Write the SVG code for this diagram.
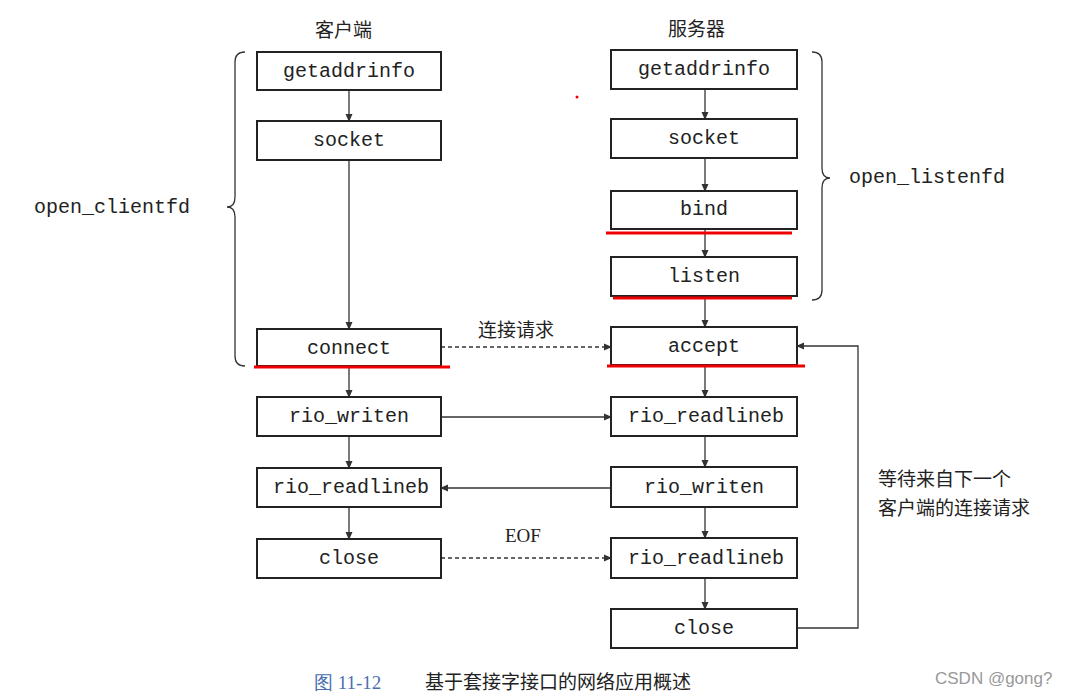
<svg xmlns="http://www.w3.org/2000/svg" width="1075" height="696" viewBox="0 0 1075 696">
<style>
.b{fill:#fff;stroke:#222;stroke-width:2}
.t{font-family:"Liberation Mono",monospace;font-size:20px;fill:#222;text-anchor:middle}
.c{font-family:"Noto Sans CJK SC",sans-serif;font-size:19px;fill:#222}
.l{stroke:#333;stroke-width:1.3;fill:none}
.d{stroke:#333;stroke-width:1.3;fill:none;stroke-dasharray:4 3}
.r{stroke:#e00;stroke-width:3}
</style>
<defs><marker id="a" markerWidth="8" markerHeight="8" refX="7" refY="4" orient="auto" markerUnits="userSpaceOnUse"><path d="M0,0.5 L8,4 L0,7.5z" fill="#333"/></marker></defs>
<rect width="1075" height="696" fill="#fff"/>
<text class="c" x="315" y="37">客户端</text>
<text class="c" x="668" y="36">服务器</text>
<g id="connectors">
<path class="l" marker-end="url(#a)" d="M349,90V121"/>
<path class="l" marker-end="url(#a)" d="M349,160V329"/>
<path class="l" marker-end="url(#a)" d="M349,366V397"/>
<path class="l" marker-end="url(#a)" d="M349,436V468"/>
<path class="l" marker-end="url(#a)" d="M349,507V539"/>
<path class="l" marker-end="url(#a)" d="M705,89V119"/>
<path class="l" marker-end="url(#a)" d="M705,158V191"/>
<path class="l" marker-end="url(#a)" d="M705,229V257"/>
<path class="l" marker-end="url(#a)" d="M705,296V327"/>
<path class="l" marker-end="url(#a)" d="M705,365V397"/>
<path class="l" marker-end="url(#a)" d="M705,436V467"/>
<path class="l" marker-end="url(#a)" d="M705,507V538"/>
<path class="l" marker-end="url(#a)" d="M705,578V609"/>
<path class="d" marker-end="url(#a)" d="M441,347H611"/>
<path class="l" marker-end="url(#a)" d="M441,417H611"/>
<path class="l" marker-end="url(#a)" d="M611,488H441"/>
<path class="d" marker-end="url(#a)" d="M441,558H611"/>
<path class="l" marker-end="url(#a)" d="M797,628H858V346H797"/>
<path class="l" d="M245,52Q235,52 235,62V197Q235,207 227,207Q235,207 235,217V356Q235,366 245,366"/>
<path class="l" d="M812,52Q822,52 822,62V168Q822,178 830,178Q822,178 822,188V290Q822,300 812,300"/>
</g>
<text class="c" x="478" y="337">连接请求</text>
<text class="c" x="505" y="542" style="font-family:'Liberation Serif',serif">EOF</text>
<text class="c" x="878" y="486">等待来自下一个</text>
<text class="c" x="878" y="515">客户端的连接请求</text>
<text class="t" x="112" y="213">open_clientfd</text>
<text class="t" x="927" y="183">open_listenfd</text>
<g id="c1"><rect class="b" x="257" y="52" width="184" height="38"/><text class="t" x="349" y="77">getaddrinfo</text></g>
<g id="c2"><rect class="b" x="257" y="121" width="184" height="39"/><text class="t" x="349" y="146">socket</text></g>
<g id="c3"><rect class="b" x="257" y="329" width="184" height="37"/><text class="t" x="349" y="354">connect</text></g>
<g id="c4"><rect class="b" x="257" y="397" width="184" height="39"/><text class="t" x="349" y="422">rio_writen</text></g>
<g id="c5"><rect class="b" x="257" y="468" width="184" height="39"/><text class="t" x="351" y="493">rio_readlineb</text></g>
<g id="c6"><rect class="b" x="257" y="539" width="184" height="39"/><text class="t" x="349" y="564">close</text></g>
<g id="s1"><rect class="b" x="611" y="50" width="186" height="39"/><text class="t" x="704" y="75">getaddrinfo</text></g>
<g id="s2"><rect class="b" x="611" y="119" width="186" height="39"/><text class="t" x="704" y="144">socket</text></g>
<g id="s3"><rect class="b" x="611" y="191" width="186" height="38"/><text class="t" x="704" y="215">bind</text></g>
<g id="s4"><rect class="b" x="611" y="257" width="186" height="39"/><text class="t" x="704" y="282">listen</text></g>
<g id="s5"><rect class="b" x="611" y="327" width="186" height="38"/><text class="t" x="704" y="352">accept</text></g>
<g id="s6"><rect class="b" x="611" y="397" width="186" height="39"/><text class="t" x="706" y="422">rio_readlineb</text></g>
<g id="s7"><rect class="b" x="611" y="467" width="186" height="40"/><text class="t" x="704" y="493">rio_writen</text></g>
<g id="s8"><rect class="b" x="611" y="538" width="186" height="40"/><text class="t" x="706" y="564">rio_readlineb</text></g>
<g id="s9"><rect class="b" x="611" y="609" width="186" height="39"/><text class="t" x="704" y="634">close</text></g>
<line class="r" x1="606" y1="233" x2="792" y2="233"/>
<line class="r" x1="613" y1="298" x2="792" y2="298"/>
<line class="r" x1="254" y1="367" x2="450" y2="367"/>
<line class="r" x1="607" y1="366" x2="805" y2="366"/>
<circle cx="577" cy="97" r="1.5" fill="#e00"/>
<text x="314" y="689" style="font-family:'Liberation Serif',serif;font-size:19px;fill:#4a6fb0">图 11-12</text>
<text class="c" x="425" y="689">基于套接字接口的网络应用概述</text>
<text x="935" y="684" style="font-family:'Liberation Sans',sans-serif;font-size:17px;fill:#999">CSDN @gong?</text>
</svg>
